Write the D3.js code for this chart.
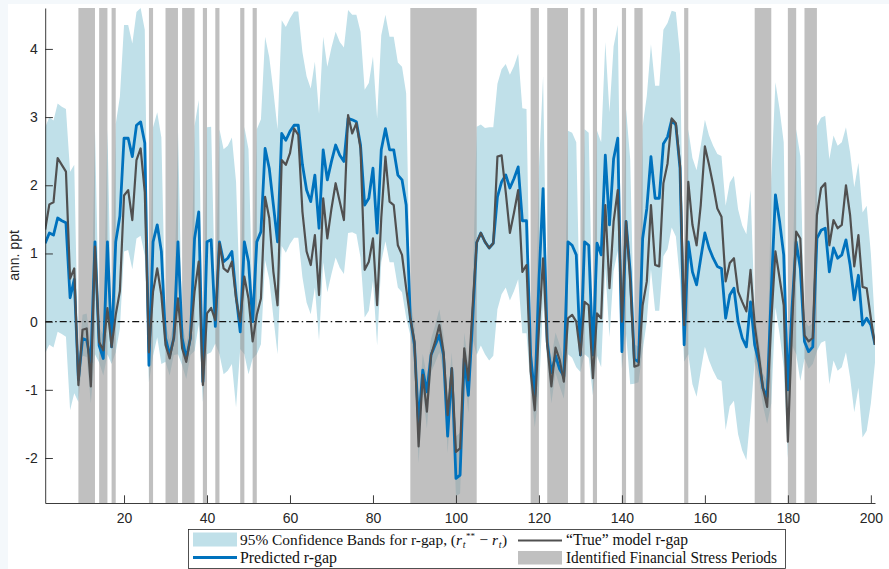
<!DOCTYPE html>
<html>
<head>
<meta charset="utf-8">
<script src="https://cdn.jsdelivr.net/npm/d3@7"></script>
<style>
  html, body { margin: 0; padding: 0; background: #f4f8fb; }
  svg { display: block; }
  .tick text { font-family: "Liberation Sans", Arial, sans-serif; font-size: 14px; fill: #262626; }
  .legend text { font-family: "Liberation Serif", "Times New Roman", serif; font-size: 16px; fill: #111; }
</style>
</head>
<body>
<div id="chart"></div>
<script>
var width = 889, height = 569;

// periods 1..201
var predicted = [
  1.15,1.30,1.27,1.52,1.48,1.45,0.35,0.62,-0.85,-0.25,
  -0.27,-0.60,1.17,-0.35,-0.54,1.17,-0.37,1.17,1.55,2.69,
  2.69,2.42,2.88,2.93,2.62,-0.64,1.17,1.42,1.03,-0.24,
  -0.49,-0.24,1.17,-0.24,-0.54,-0.24,1.22,1.61,-0.88,1.17,
  1.20,-0.07,1.17,0.88,0.93,1.03,0.39,-0.15,1.17,0.88,
  0.00,1.17,1.32,2.54,2.25,1.71,1.17,2.76,2.66,2.79,
  2.88,2.88,2.30,1.93,1.76,2.15,1.37,2.52,2.08,2.35,
  2.59,2.44,2.35,2.98,2.96,2.93,2.59,1.71,1.81,2.25,
  1.30,2.52,2.83,2.52,2.52,2.15,2.08,1.71,0.05,-0.34,
  -1.50,-0.71,-1.03,-0.49,-0.34,-0.20,-0.49,-1.68,-0.69,-2.30,
  -2.25,-0.54,-1.08,0.00,1.16,1.30,1.17,1.08,1.15,1.83,
  2.05,2.15,1.96,2.10,2.27,1.48,1.48,-0.50,-1.10,0.60,
  1.95,-0.30,-0.75,-0.50,-0.70,-0.80,1.17,1.12,0.98,-0.49,
  1.17,1.12,-0.49,1.15,0.98,2.44,1.42,2.39,2.69,-0.44,
  1.47,0.73,-0.55,-0.59,1.22,1.66,2.42,1.81,1.81,2.61,
  2.71,2.96,2.88,2.25,-0.34,1.17,0.73,0.54,0.93,1.30,
  1.08,0.93,0.81,0.78,0.05,0.39,0.49,0.00,-0.24,-0.37,
  0.29,-0.34,-0.59,-0.98,-1.10,0.45,1.86,1.47,0.98,-1.00,
  0.20,1.17,0.78,-0.29,-0.44,-0.37,1.22,1.34,1.37,0.73,
  1.08,0.93,0.98,1.20,0.83,0.32,0.68,-0.05,0.05,-0.05,
  -0.34
];

var truth = [
  1.35,1.72,1.75,2.40,2.30,2.20,0.63,0.78,-0.93,-0.12,
  -0.10,-0.95,1.10,-0.30,-0.42,0.20,-0.37,0.10,0.45,1.85,
  1.93,1.49,2.37,2.54,1.90,-0.45,0.44,0.78,0.39,-0.34,
  -0.54,-0.24,0.34,-0.39,-0.59,-0.24,0.44,0.88,-0.93,0.12,
  0.20,0.02,1.15,0.78,0.73,0.88,0.34,0.00,0.66,0.34,
  -0.29,0.10,0.34,1.83,1.52,0.73,0.24,2.37,2.30,2.47,
  2.83,2.74,1.61,1.03,0.83,1.27,0.39,1.81,1.22,1.66,
  2.03,1.76,1.49,3.03,2.76,2.91,2.54,0.76,0.88,1.22,
  0.24,1.52,2.42,1.76,1.71,1.12,0.98,0.49,0.05,-0.29,
  -1.83,-0.78,-1.32,-0.49,-0.29,-0.05,-0.44,-1.37,-0.68,-1.91,
  -1.86,-0.39,-0.86,0.20,1.16,1.30,1.17,1.08,1.15,2.42,
  2.44,1.90,1.30,1.60,1.93,0.73,0.83,-0.73,-1.30,-0.10,
  0.93,-0.34,-0.95,-0.38,-0.56,-0.88,0.05,0.10,0.00,-0.49,
  0.29,0.24,-0.83,0.12,0.05,1.71,0.49,1.47,1.93,0.00,
  1.47,0.59,-0.66,-0.64,0.24,0.59,1.71,0.83,0.81,2.03,
  2.32,2.98,2.91,2.30,-0.05,2.05,1.42,1.12,1.71,2.57,
  2.30,2.00,1.66,1.54,0.59,0.86,0.93,0.44,0.29,0.15,
  0.76,-0.05,-0.49,-0.98,-1.25,0.00,1.03,0.64,0.24,-1.76,
  -0.10,1.32,1.22,-0.20,-0.29,-0.24,1.56,1.96,2.03,1.12,
  1.49,1.37,1.42,2.00,1.56,0.81,1.27,0.51,0.49,0.05,
  -0.34
];

var bandHigh = [
  2.85,3.00,2.95,3.20,3.15,3.12,2.20,2.30,-0.63,0.10,
  0.12,-0.38,2.82,-0.08,-0.20,2.82,-0.15,2.90,3.30,4.35,
  4.35,4.08,4.54,4.60,4.28,-0.23,2.85,3.07,2.70,-0.02,
  -0.27,-0.02,2.82,-0.02,-0.32,-0.02,2.87,3.25,-0.66,2.85,
  2.86,0.24,2.82,2.53,2.58,2.70,2.05,0.22,2.86,2.53,
  0.22,2.82,2.97,4.18,3.88,3.38,2.82,4.42,4.32,4.45,
  4.55,4.55,3.95,3.60,3.42,3.81,3.05,4.18,3.74,4.02,
  4.25,4.10,4.02,4.57,4.50,4.50,4.25,3.40,3.50,3.89,
  2.98,4.20,4.50,4.18,4.18,3.80,3.74,3.35,0.30,-0.05,
  -1.25,-0.47,-0.80,-0.25,-0.05,0.18,-0.20,-1.13,-0.45,-1.68,
  -1.63,-0.16,-0.63,0.43,2.86,2.89,2.84,2.85,2.85,3.49,
  3.70,3.78,3.62,3.75,3.93,3.13,3.12,-0.28,-0.88,2.25,
  3.60,-0.08,-0.53,-0.16,-0.34,-0.58,2.80,2.77,2.63,-0.27,
  2.82,2.77,-0.27,2.80,2.63,4.10,3.07,4.04,4.35,0.22,
  3.12,2.38,-0.33,-0.37,2.87,3.31,4.07,3.46,3.46,4.28,
  4.38,4.56,4.54,3.92,0.17,2.82,2.40,2.22,2.58,2.96,
  2.73,2.58,2.46,2.43,1.70,2.04,2.14,1.65,1.41,1.28,
  1.93,0.17,-0.27,-0.76,-0.88,2.10,3.51,3.12,2.63,-0.78,
  0.42,2.82,2.43,0.02,-0.07,-0.02,2.87,2.99,3.02,2.38,
  2.73,2.58,2.63,2.85,2.48,1.97,2.33,1.60,1.70,1.00,
  -0.05
];

var bandLow = [
  -0.46,-0.34,-0.38,-0.15,-0.18,-0.22,-1.30,-1.05,-1.18,-0.50,
  -0.52,-1.20,-0.48,-0.60,-0.79,-0.48,-0.62,-0.45,-0.10,1.03,
  1.05,0.77,1.22,1.26,0.97,-0.89,-0.50,-0.23,-0.62,-0.59,
  -0.79,-0.49,-0.48,-0.64,-0.84,-0.49,-0.43,-0.04,-1.18,-0.48,
  -0.45,-0.32,-0.48,-0.77,-0.72,-0.62,-1.26,-0.40,-0.48,-0.77,
  -0.54,-0.48,-0.33,0.90,0.62,0.06,-0.48,1.11,1.01,1.14,
  1.23,1.23,0.65,0.28,0.11,0.50,-0.28,0.87,0.43,0.70,
  0.94,0.79,0.70,1.30,1.31,1.28,0.94,0.06,0.16,0.60,
  -0.35,0.87,1.18,0.87,0.87,0.50,0.43,0.06,-0.20,-0.60,
  -2.08,-1.03,-1.57,-0.75,-0.60,-0.45,-0.75,-1.93,-0.94,-2.56,
  -2.52,-0.80,-1.34,-0.25,-0.49,-0.35,-0.48,-0.57,-0.50,0.18,
  0.40,0.50,0.31,0.45,0.62,-0.17,-0.17,-0.98,-1.55,-1.05,
  0.30,-0.59,-1.20,-0.75,-0.95,-1.13,-0.48,-0.53,-0.67,-0.74,
  -0.48,-0.53,-1.08,-0.50,-0.67,0.79,-0.23,0.74,1.04,-0.69,
  -0.18,-0.92,-0.91,-0.89,-0.43,0.01,0.77,0.16,0.16,0.96,
  1.06,1.38,1.25,0.60,-0.59,-0.48,-0.92,-1.10,-0.72,-0.37,
  -0.57,-0.72,-0.84,-0.87,-1.59,-1.24,-1.16,-1.65,-1.89,-2.03,
  -1.36,-0.59,-0.84,-1.23,-1.50,-1.20,0.21,-0.18,-0.67,-2.00,
  -0.35,-0.48,-0.87,-0.54,-0.69,-0.62,-0.43,-0.31,-0.28,-0.92,
  -0.57,-0.72,-0.67,-0.45,-0.82,-1.33,-0.97,-1.70,-1.60,-1.20,
  -0.60
];

var stressStart = [9,14,17,26,30,34,39,42,48,51,89,118,122,130,133,140,143,155,172,180,184];
var stressEnd   = [13,16,18,27,33,37,40,43,49,52,105,120,127,131,134,141,145,156,176,182,187];

var xTicks = [20,40,60,80,100,120,140,160,180,200];
var yTicks = [-2,-1,0,1,2,3,4];

var svg = d3.select("#chart").append("svg").attr("width", width).attr("height", height);

// page background + white figure area
svg.append("rect").attr("width", width).attr("height", height).attr("fill", "#f4f8fb");
svg.append("rect").attr("x", 8).attr("y", 4).attr("width", width - 8).attr("height", height - 4).attr("fill", "#fff");

var x = d3.scaleLinear().domain([1, 201]).range([45.2, 875]);
var y = d3.scaleLinear().domain([-2.66, 4.6]).range([503, 8]);

svg.append("clipPath").attr("id", "plotclip")
  .append("rect").attr("x", x.range()[0]).attr("y", y.range()[1])
  .attr("width", x.range()[1] - x.range()[0]).attr("height", y.range()[0] - y.range()[1]);

var plot = svg.append("g").attr("clip-path", "url(#plotclip)");

var rows = predicted.map(function(p, i) {
  return { t: i + 1, p: p, tr: truth[i], lo: bandLow[i], hi: bandHigh[i] };
});

// confidence band
plot.append("path")
  .datum(rows)
  .attr("fill", "#c0e0e9")
  .attr("d", d3.area()
    .x(function(d) { return x(d.t); })
    .y0(function(d) { return y(d.lo); })
    .y1(function(d) { return y(d.hi); }));

// financial stress periods
plot.selectAll("rect.stress")
  .data(stressStart.map(function(s, i) { return { s: s, e: stressEnd[i] }; }))
  .enter().append("rect")
    .attr("class", "stress")
    .attr("x", function(d) { return x(d.s); })
    .attr("width", function(d) { return x(d.e) - x(d.s); })
    .attr("y", y.range()[1])
    .attr("height", y.range()[0] - y.range()[1])
    .attr("fill", "rgb(150,150,150)")
    .attr("fill-opacity", 0.6);

// zero line
plot.append("line")
  .attr("x1", x.range()[0]).attr("x2", x.range()[1])
  .attr("y1", y(0)).attr("y2", y(0))
  .attr("stroke", "#111").attr("stroke-width", 1.1)
  .attr("stroke-dasharray", "7,3,1.5,3");

var line = function(key) {
  return d3.line().x(function(d) { return x(d.t); }).y(function(d) { return y(d[key]); });
};

plot.append("path").datum(rows)
  .attr("fill", "none").attr("stroke", "#0072bd").attr("stroke-width", 2.8)
  .attr("stroke-linejoin", "round")
  .attr("d", line("p"));

plot.append("path").datum(rows)
  .attr("fill", "none").attr("stroke", "#505050").attr("stroke-width", 2.2)
  .attr("stroke-linejoin", "round")
  .attr("d", line("tr"));

// axes (MATLAB style, ticks pointing in)
var yAxis = svg.append("g")
  .attr("transform", "translate(" + x.range()[0] + ",0)")
  .call(d3.axisLeft(y).tickValues(yTicks).tickSizeInner(-7.7).tickSizeOuter(0).tickPadding(7.5));
var xAxis = svg.append("g")
  .attr("transform", "translate(0," + y.range()[0] + ")")
  .call(d3.axisBottom(x).tickValues(xTicks).tickSizeInner(-7.7).tickSizeOuter(0).tickPadding(10.4));

[xAxis, yAxis].forEach(function(a) {
  a.select(".domain").attr("stroke", "#262626").attr("stroke-width", 0.9);
  a.selectAll(".tick line").attr("stroke", "#262626").attr("stroke-width", 0.9);
});
yAxis.selectAll(".tick text").text(function(d) { return d; });

svg.append("text")
  .attr("transform", "translate(19,255.5) rotate(-90)")
  .attr("text-anchor", "middle")
  .style("font-family", "'Liberation Sans', Arial, sans-serif")
  .style("font-size", "14px")
  .attr("fill", "#262626")
  .text("ann. ppt");

// legend
var lg = svg.append("g").attr("class", "legend");
lg.append("rect").attr("x", 188.5).attr("y", 529.5).attr("width", 597).attr("height", 39)
  .attr("fill", "#fff").attr("stroke", "#262626").attr("stroke-width", 0.8);

lg.append("rect").attr("x", 193).attr("y", 532.5).attr("width", 44).attr("height", 14).attr("fill", "#c0e0e9");
lg.append("line").attr("x1", 193).attr("x2", 237).attr("y1", 557.5).attr("y2", 557.5)
  .attr("stroke", "#0072bd").attr("stroke-width", 2.8);
lg.append("line").attr("x1", 518).attr("x2", 562).attr("y1", 540.5).attr("y2", 540.5)
  .attr("stroke", "#505050").attr("stroke-width", 2.2);
lg.append("rect").attr("x", 518).attr("y", 551).attr("width", 44).attr("height", 13.5)
  .attr("fill", "rgb(150,150,150)").attr("fill-opacity", 0.6);

var t1 = lg.append("text").attr("x", 240).attr("y", 545).style("font-size", "15.4px");
t1.append("tspan").text("95% Confidence Bands for r-gap, (");
t1.append("tspan").style("font-style", "italic").text("r");
t1.append("tspan").style("font-style", "italic").style("font-size", "10px").attr("dx", 0.8).attr("dy", 3).text("t");
t1.append("tspan").style("font-size", "9px").attr("dx", 0.5).attr("dy", -9).text("**");
t1.append("tspan").attr("dx", 0.5).attr("dy", 6).text(" \u2212 ");
t1.append("tspan").style("font-style", "italic").text("r");
t1.append("tspan").style("font-style", "italic").style("font-size", "10px").attr("dx", 0.8).attr("dy", 3).text("t");
t1.append("tspan").attr("dx", 0.5).attr("dy", -3).text(")");

lg.append("text").attr("x", 240).attr("y", 563)
  .attr("textLength", 97).attr("lengthAdjust", "spacingAndGlyphs").text("Predicted r-gap");
lg.append("text").attr("x", 566).attr("y", 545)
  .attr("textLength", 122).attr("lengthAdjust", "spacingAndGlyphs").text("\u201CTrue\u201D model r-gap");
lg.append("text").attr("x", 566).attr("y", 563)
  .attr("textLength", 211).attr("lengthAdjust", "spacingAndGlyphs").text("Identified Financial Stress Periods");
</script>
</body>
</html>
